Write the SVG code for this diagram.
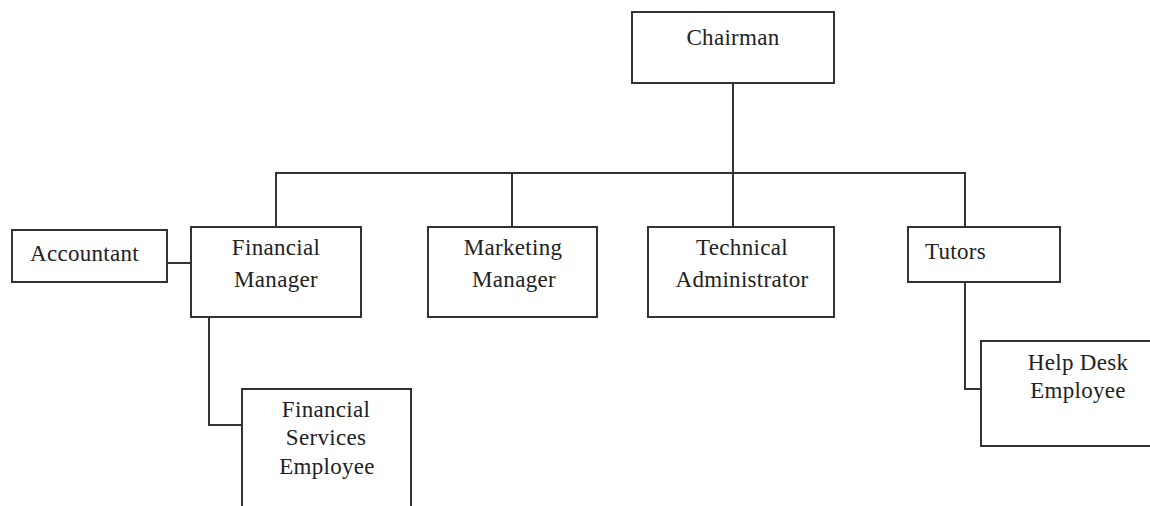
<svg xmlns="http://www.w3.org/2000/svg" width="1150" height="506" viewBox="0 0 1150 506">
<style>
.box{fill:#fff;stroke:#333;stroke-width:2}
.ln{fill:none;stroke:#333;stroke-width:2}
text{font-family:"Liberation Serif","Times New Roman",serif;font-size:23px;fill:#222;letter-spacing:0.3px}
.c{text-anchor:middle}
</style>
<rect width="1150" height="506" fill="#fff"/>
<g id="connectors">
<path class="ln" d="M733 83 V227"/>
<path class="ln" d="M276 227 V173 H965 V227"/>
<path class="ln" d="M512 173 V227"/>
<path class="ln" d="M167 263 H191"/>
<path class="ln" d="M209 317 V425 H242"/>
<path class="ln" d="M965 282 V389 H981"/>
</g>
<g id="chairman"><rect class="box" x="632" y="12" width="202" height="71"/><text class="c" x="733" y="45">Chairman</text></g>
<g id="accountant"><rect class="box" x="12" y="230" width="155" height="52"/><text x="30" y="261">Accountant</text></g>
<g id="financial-manager"><rect class="box" x="191" y="227" width="170" height="90"/><text class="c" x="276" y="255">Financial</text><text class="c" x="276" y="287">Manager</text></g>
<g id="marketing-manager"><rect class="box" x="428" y="227" width="169" height="90"/><text class="c" x="513" y="255">Marketing</text><text class="c" x="514" y="287">Manager</text></g>
<g id="technical-administrator"><rect class="box" x="648" y="227" width="186" height="90"/><text class="c" x="742" y="255">Technical</text><text class="c" x="742" y="287">Administrator</text></g>
<g id="tutors"><rect class="box" x="908" y="227" width="152" height="55"/><text x="925" y="259">Tutors</text></g>
<g id="financial-services-employee"><rect class="box" x="242" y="389" width="169" height="130"/><text class="c" x="326" y="417">Financial</text><text class="c" x="326" y="445">Services</text><text class="c" x="327" y="474">Employee</text></g>
<g id="help-desk-employee"><rect class="box" x="981" y="341" width="180" height="105"/><text class="c" x="1078" y="370">Help Desk</text><text class="c" x="1078" y="398">Employee</text></g>
</svg>
